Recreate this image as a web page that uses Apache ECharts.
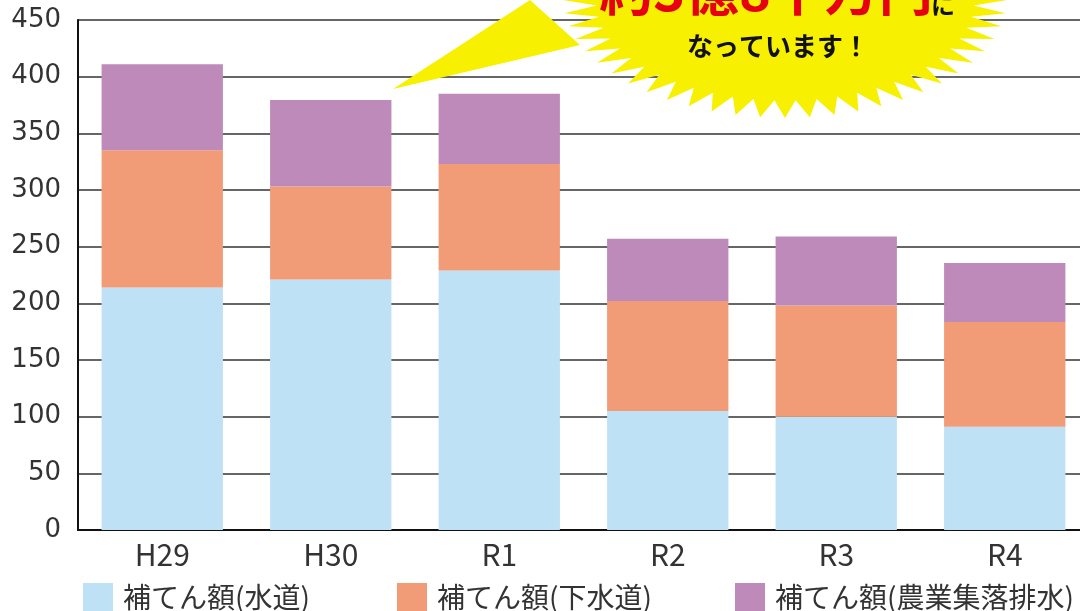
<!DOCTYPE html>
<html><head><meta charset="utf-8">
<script src="https://cdn.jsdelivr.net/npm/echarts@6/dist/echarts.min.js"></script>
<style>html,body{margin:0;padding:0;background:#fff}#c{width:1080px;height:611px}</style>
</head><body><div id="c"></div>
<script>
const categories = ['H29','H30','R1','R2','R3','R4'];
const waterValues = [214, 221, 229, 105, 100, 91];
const sewerValues = [121, 82, 94, 97, 98, 92.5];
const agriValues = [76, 76.5, 62, 55, 61, 52];
const seriesNames = ['補てん額(水道)','補てん額(下水道)','補てん額(農業集落排水)'];
const yTicks = [0,50,100,150,200,250,300,350,400,450];

const colors = ['#bfe1f6','#f19c76','#bd8ab9'];
const chart = echarts.init(document.getElementById('c'));

function starPoints(cx, cy, rx, ry, n, depth){
  const pts = [];
  for(let i=0;i<n*2;i++){
    const a = Math.PI*2*i/(n*2);
    const k = (i%2===0)?1:(1-depth);
    pts.push([cx+Math.cos(a)*rx*k, cy+Math.sin(a)*ry*k]);
  }
  return pts;
}
const font = '"Noto Sans CJK JP", sans-serif';
function legendFor(i, left){
  return {
    left: left, top: 583, itemWidth: 30, itemHeight: 28, icon: 'rect',
    itemGap: 0, padding: 0,
    data: [seriesNames[i]],
    textStyle: {fontFamily: font, fontSize: 28, color: '#333', padding: [0,0,0,5]}
  };
}
chart.setOption({
  animation: false,
  color: colors,
  grid: {left: 78, right: -9, top: 20, bottom: 81, containLabel: false, outerBoundsMode: 'none'},
  legend: [legendFor(0, 83), legendFor(1, 397), legendFor(2, 735)],
  xAxis: {
    type: 'category', data: categories,
    axisLine: {lineStyle: {color: '#111', width: 2}},
    axisTick: {show: false},
    axisLabel: {fontFamily: font, fontSize: 30, color: '#333', margin: 10}
  },
  yAxis: {
    type: 'value', min: 0, max: 450, interval: 50,
    axisLine: {show: true, lineStyle: {color: '#111', width: 2}},
    axisTick: {show: false},
    axisLabel: {fontFamily: '"DejaVu Sans", sans-serif', fontSize: 26, color: '#333', margin: 17,
      formatter: v => yTicks.indexOf(v) >= 0 ? String(v) : ''},
    splitLine: {lineStyle: {color: '#333', width: 1.5}}
  },
  series: [waterValues, sewerValues, agriValues].map((d, i) => ({
    name: seriesNames[i], type: 'bar', stack: 'total', data: d, barWidth: '72%'
  })),
  graphic: [
    {type: 'polygon', z: 100, shape: {points: [[393,89],[530,0],[580,45]]}, style: {fill: '#f7f000'}},
    {type: 'polygon', z: 100, shape: {points: starPoints(785, 0, 222, 118, 56, 0.15)}, style: {fill: '#f7f000'}},
    {type: 'text', z: 101, style: {text: '約3億8千万円', x: 766, y: 17, textAlign: 'center', textVerticalAlign: 'bottom',
      font: 'bold 54px "Noto Sans CJK JP"', fill: '#e60012'}},
    {type: 'text', z: 101, style: {text: 'に', x: 931, y: 17, textAlign: 'left', textVerticalAlign: 'bottom',
      font: 'bold 24px "Noto Sans CJK JP"', fill: '#111'}},
    {type: 'text', z: 101, style: {text: 'なっています！', x: 778, y: 46, textAlign: 'center', textVerticalAlign: 'middle',
      font: 'bold 26px "Noto Sans CJK JP"', fill: '#111'}}
  ]
});
</script></body></html>
